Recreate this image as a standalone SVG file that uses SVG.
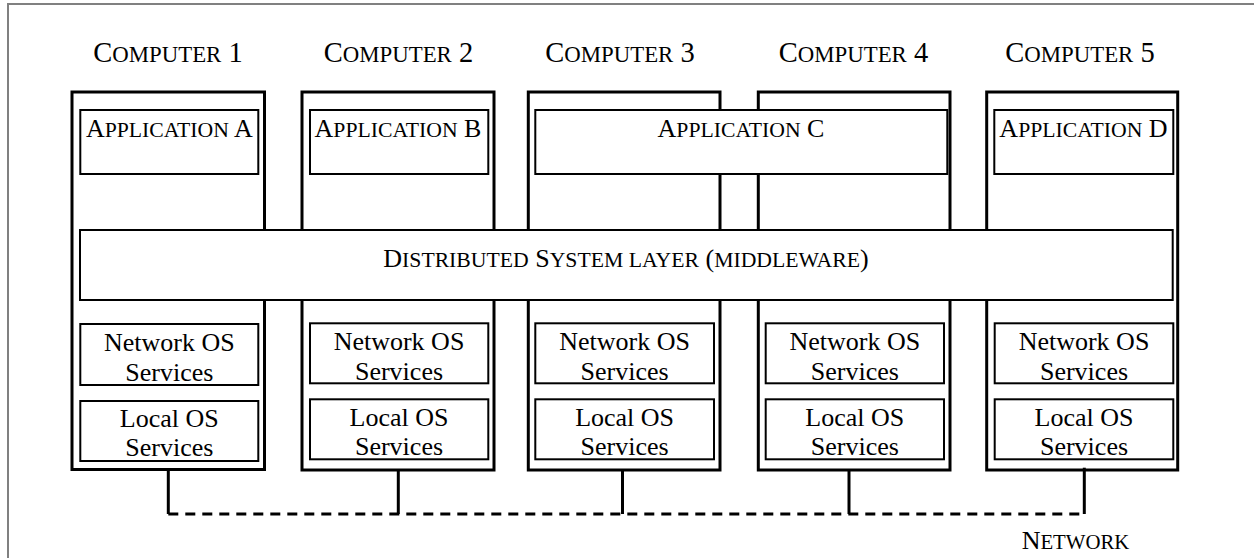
<svg xmlns="http://www.w3.org/2000/svg" width="1254" height="558" viewBox="0 0 1254 558">
<style>
.frame{fill:none;stroke:#808080;stroke-width:2}
.comp{fill:none;stroke:#000;stroke-width:3}
.box{fill:#fff;stroke:#000;stroke-width:2}
text{font-family:'Liberation Serif','Times New Roman',Times,serif;fill:#000;text-anchor:middle}
.lbl{font-size:28.5px}
.t{font-size:26px}
.sc{font-size:0.8em}
.sc2{font-size:0.835em}
.conn{stroke:#000;stroke-width:3;fill:none}
.dash{stroke-dasharray:10 7}
</style>
<rect width="1254" height="558" fill="#fff"/>
<path class="frame" d="M8,558 V4 H1254"/>

<g id="computer1"><rect class="comp" x="72" y="92" width="192.5" height="377.5"/><text class="lbl" x="168" y="62">C<tspan class="sc">OMPUTER</tspan> 1</text></g>
<g id="computer2"><rect class="comp" x="302" y="92" width="192" height="378"/><text class="lbl" x="398.5" y="62">C<tspan class="sc">OMPUTER</tspan> 2</text></g>
<g id="computer3"><rect class="comp" x="528.3" y="92" width="191.7" height="378"/><text class="lbl" x="620" y="62">C<tspan class="sc">OMPUTER</tspan> 3</text></g>
<g id="computer4"><rect class="comp" x="758.3" y="92" width="191.7" height="378"/><text class="lbl" x="853.5" y="62">C<tspan class="sc">OMPUTER</tspan> 4</text></g>
<g id="computer5"><rect class="comp" x="986.7" y="92" width="191" height="378"/><text class="lbl" x="1080" y="62">C<tspan class="sc">OMPUTER</tspan> 5</text></g>

<g id="appA"><rect class="box" x="80.3" y="110" width="178" height="64"/><text class="t" x="169.3" y="137">A<tspan class="sc2">PPLICATION</tspan> A</text></g>
<g id="appB"><rect class="box" x="310" y="110" width="178.3" height="64"/><text class="t" x="398" y="137">A<tspan class="sc2">PPLICATION</tspan> B</text></g>
<g id="appC"><rect class="box" x="535.3" y="110" width="412" height="64"/><text class="t" x="741" y="137">A<tspan class="sc2">PPLICATION</tspan> C</text></g>
<g id="appD"><rect class="box" x="994.3" y="110" width="179" height="64"/><text class="t" x="1083.5" y="137">A<tspan class="sc2">PPLICATION</tspan> D</text></g>

<g id="middleware"><rect class="box" x="80" y="230" width="1092.7" height="70"/><text class="t" x="626" y="267">D<tspan class="sc2">ISTRIBUTED</tspan> S<tspan class="sc2">YSTEM LAYER</tspan> (<tspan class="sc2">MIDDLEWARE</tspan>)</text></g>

<g id="netos1"><rect class="box" x="80.3" y="324" width="178" height="61"/><text class="t" x="169.3" y="351">Network OS</text><text class="t" x="169.3" y="381">Services</text></g>
<g id="localos1"><rect class="box" x="80.3" y="401" width="178" height="60"/><text class="t" x="169.3" y="427">Local OS</text><text class="t" x="169.3" y="456">Services</text></g>
<g id="netos2"><rect class="box" x="310" y="323.3" width="178.3" height="60"/><text class="t" x="399" y="349.5">Network OS</text><text class="t" x="399" y="380">Services</text></g>
<g id="localos2"><rect class="box" x="310" y="399.3" width="178.3" height="60"/><text class="t" x="399" y="425.5">Local OS</text><text class="t" x="399" y="455">Services</text></g>
<g id="netos3"><rect class="box" x="535.3" y="323.3" width="178.7" height="60"/><text class="t" x="624.6" y="349.5">Network OS</text><text class="t" x="624.6" y="380">Services</text></g>
<g id="localos3"><rect class="box" x="535.3" y="399.3" width="178.7" height="60"/><text class="t" x="624.6" y="425.5">Local OS</text><text class="t" x="624.6" y="455">Services</text></g>
<g id="netos4"><rect class="box" x="765.7" y="323.3" width="178.3" height="60"/><text class="t" x="854.8" y="349.5">Network OS</text><text class="t" x="854.8" y="380">Services</text></g>
<g id="localos4"><rect class="box" x="765.7" y="399.3" width="178.3" height="60"/><text class="t" x="854.8" y="425.5">Local OS</text><text class="t" x="854.8" y="455">Services</text></g>
<g id="netos5"><rect class="box" x="994.7" y="323.3" width="178.6" height="60"/><text class="t" x="1084" y="349.5">Network OS</text><text class="t" x="1084" y="380">Services</text></g>
<g id="localos5"><rect class="box" x="994.7" y="399.3" width="178.6" height="60"/><text class="t" x="1084" y="425.5">Local OS</text><text class="t" x="1084" y="455">Services</text></g>

<g id="connectors">
<path class="conn" d="M168.3,470 V514"/>
<path class="conn" d="M398.3,471 V514"/>
<path class="conn" d="M622.5,471 V514"/>
<path class="conn" d="M849,471 V514"/>
<path class="conn" d="M1084.3,467.7 V514"/>
<path class="conn dash" d="M168.3,514 H1084.3"/>
</g>

<g id="network"><text class="t" x="1075.5" y="549">N<tspan class="sc">ETWORK</tspan></text></g>
</svg>
